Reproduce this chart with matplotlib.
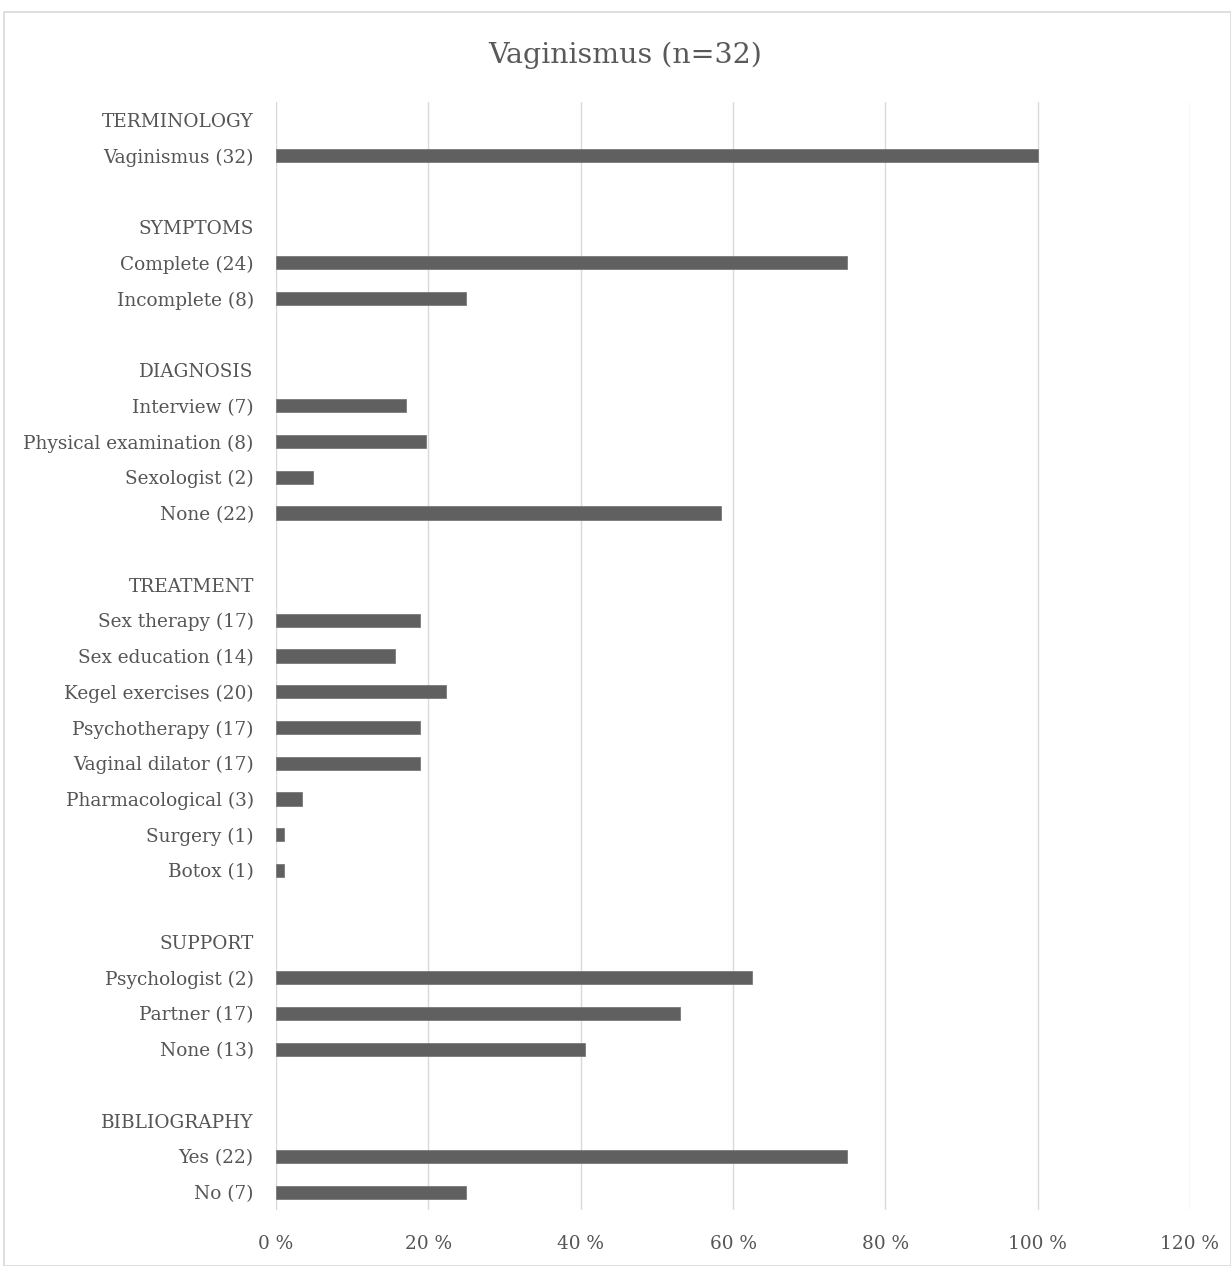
import numpy as np
import matplotlib.pyplot as plt
from matplotlib.patches import Rectangle
from matplotlib.ticker import FuncFormatter

plt.rcParams['font.family'] = ['DejaVu Serif']

# groups of the chart, top to bottom
group_names = ['TERMINOLOGY', 'SYMPTOMS', 'DIAGNOSIS', 'TREATMENT', 'SUPPORT', 'BIBLIOGRAPHY']
group_items = [
    ['Vaginismus (32)'],
    ['Complete (24)', 'Incomplete (8)'],
    ['Interview (7)', 'Physical examination (8)', 'Sexologist (2)', 'None (22)'],
    ['Sex therapy (17)', 'Sex education (14)', 'Kegel exercises (20)', 'Psychotherapy (17)',
     'Vaginal dilator (17)', 'Pharmacological (3)', 'Surgery (1)', 'Botox (1)'],
    ['Psychologist (2)', 'Partner (17)', 'None (13)'],
    ['Yes (22)', 'No (7)'],
]
group_values = [
    [100],
    [75, 25],
    [17.1, 19.7, 4.9, 58.4],
    [18.9, 15.6, 22.3, 18.9, 18.9, 3.4, 1.1, 1.1],
    [62.5, 53.0, 40.6],
    [75, 25],
]
x_ticks = [0, 20, 40, 60, 80, 100, 120]

# flatten into rows: header row, items, blank spacer between groups
labels = []
values = []
for gi, (name, items, vals) in enumerate(zip(group_names, group_items, group_values)):
    if gi > 0:
        labels.append('')
        values.append(np.nan)
    labels.append(name)
    values.append(np.nan)
    labels += items
    values += vals

W, H = 1231, 1266
fig = plt.figure(figsize=(W / 100, H / 100), dpi=100)
fig.patches.append(Rectangle((4 / W, 0), 1 - 4 / W, 1 - 12 / H, transform=fig.transFigure,
                             fill=False, edgecolor='#d9d9d9', linewidth=1.2))

ax = fig.add_axes([276 / W, 56 / H, (1190 - 276) / W, (1210 - 102) / H])
y = np.arange(len(labels))
vals = np.array(values, dtype=float)
has = ~np.isnan(vals)
ax.barh(y[has], vals[has], height=0.37, color='#606060', edgecolor='#7a7a7a',
        linewidth=0.6, zorder=3)

ax.set_ylim(len(labels) - 0.5, -0.5)
ax.set_xlim(0, 120)
ax.set_xticks(x_ticks)
ax.xaxis.set_major_formatter(FuncFormatter(lambda v, p: f'{v:.0f} %'))
ax.set_yticks(y)
ax.set_yticklabels(labels)
ax.grid(axis='x', color='#d9d9d9', linewidth=1, zorder=0)
for s in ax.spines.values():
    s.set_visible(False)
ax.tick_params(length=0, colors='#555555', labelsize=13.3)
ax.tick_params(axis='y', pad=16)
ax.tick_params(axis='x', pad=18)

fig.text(625 / W, 1 - 55 / H, 'Vaginismus (n=32)', ha='center', va='center',
         fontsize=20.5, color='#595959')

fig.savefig('out.png', dpi=100)
